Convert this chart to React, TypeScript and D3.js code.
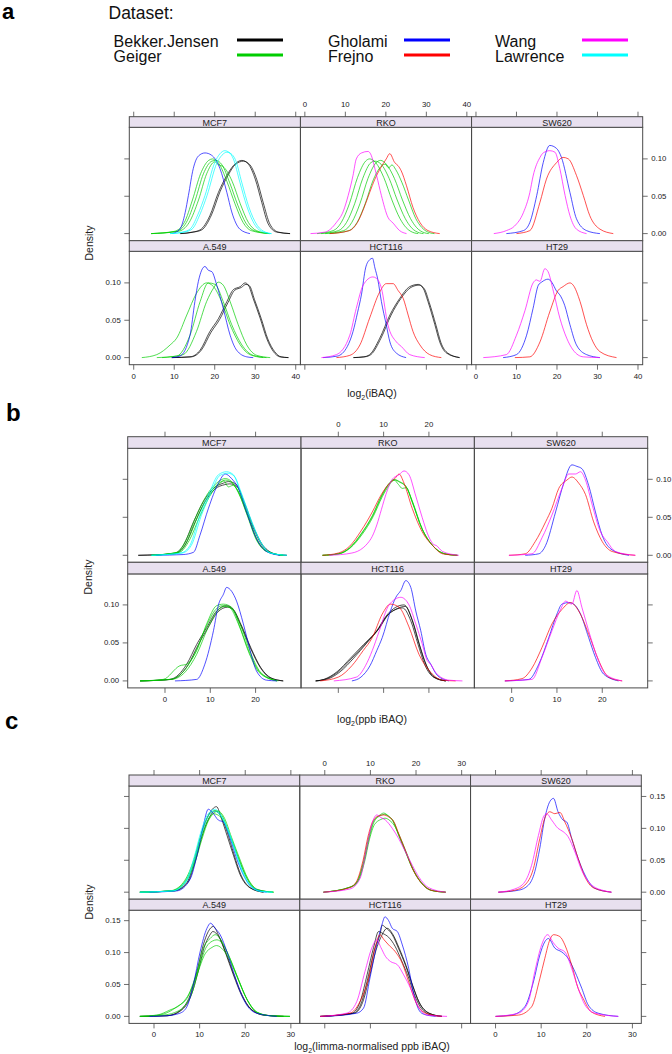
import React from 'react';
import * as d3 from 'd3';

type Curve = [string, number[][]];

// ---------- legend / groups ----------
const DATASETS = ['Bekker.Jensen', 'Geiger', 'Gholami', 'Frejno', 'Wang', 'Lawrence'];
const DATASET_COLORS = ['#000000', '#00cd00', '#0000ff', '#ff0000', '#ff00ff', '#00ffff'];
const CELL_LINES = ['MCF7', 'RKO', 'SW620', 'A.549', 'HCT116', 'HT29'];

// ---------- tick labels ----------
const A_X_TICKS = [0, 10, 20, 30, 40];
const B_X_TICKS = [0, 10, 20];
const C_X_TICKS = [0, 10, 20, 30];
const AB_Y_TICKS = [0, 0.05, 0.1];
const C_Y_TICKS = [0, 0.05, 0.1, 0.15];

// ---------- panel a : log2(iBAQ) ----------
const aMCF7: Curve[] = [
  ['Bekker.Jensen', [[11.4, 0], [14.5, 0.002], [16.4, 0.005], [18.8, 0.024], [20.9, 0.055], [23, 0.078], [24.6, 0.091], [26.7, 0.098], [28.3, 0.093], [30, 0.073], [31.6, 0.042], [33.2, 0.013], [35.3, 0.002], [38.6, 0]]],
  ['Bekker.Jensen', [[11.6, 0], [14.8, 0.002], [16.8, 0.005], [19.2, 0.025], [21.3, 0.056], [23.4, 0.079], [25, 0.092], [27.1, 0.097], [28.7, 0.092], [30.4, 0.072], [32, 0.041], [33.6, 0.013], [35.7, 0.002], [38.6, 0]]],
  ['Geiger', [[4.3, 0], [10, 0.003], [12.5, 0.015], [14.5, 0.045], [16.5, 0.08], [18.5, 0.098], [19.5, 0.1], [21, 0.094], [23, 0.07], [25, 0.04], [27, 0.015], [29, 0.004], [33.5, 0]]],
  ['Geiger', [[4.3, 0], [10.5, 0.003], [13, 0.015], [15.2, 0.045], [17.2, 0.08], [19.3, 0.097], [20.3, 0.098], [21.8, 0.092], [23.7, 0.068], [25.7, 0.038], [27.7, 0.014], [29.7, 0.004], [33.5, 0]]],
  ['Geiger', [[4.3, 0], [11, 0.003], [13.7, 0.015], [16, 0.045], [18, 0.08], [20, 0.096], [21, 0.092], [22, 0.09], [24.3, 0.07], [26.3, 0.04], [28.3, 0.015], [30.3, 0.004], [33.5, 0]]],
  ['Gholami', [[9.5, 0], [11.4, 0.006], [12.7, 0.028], [13.5, 0.051], [14.7, 0.087], [16, 0.104], [17.6, 0.108], [19.2, 0.105], [21.3, 0.087], [23, 0.055], [24.2, 0.029], [26.2, 0.006], [28.7, 0]]],
  ['Lawrence', [[9, 0], [12, 0.002], [13.9, 0.006], [15.8, 0.025], [17.6, 0.051], [20, 0.095], [21.3, 0.107], [22.5, 0.111], [23.5, 0.109], [24.6, 0.1], [26.2, 0.069], [27.9, 0.037], [30, 0.011], [32, 0.002], [34, 0]]],
  ['Lawrence', [[9, 0], [12.5, 0.002], [14.4, 0.006], [16.3, 0.025], [18.1, 0.051], [20.5, 0.094], [21.8, 0.105], [23, 0.109], [24, 0.107], [25.1, 0.099], [26.7, 0.068], [28.4, 0.036], [30.5, 0.011], [32.5, 0.002], [34, 0]]],
];
const aRKO: Curve[] = [
  ['Geiger', [[3, 0], [7, 0.004], [9, 0.015], [11, 0.04], [13, 0.075], [15, 0.097], [16, 0.1], [17.5, 0.095], [19.5, 0.075], [21.5, 0.045], [23.5, 0.02], [25, 0.008], [27, 0.001], [28, 0]]],
  ['Geiger', [[4, 0], [8.3, 0.004], [10.3, 0.015], [12.3, 0.04], [14.3, 0.074], [16.3, 0.095], [17.3, 0.097], [18.8, 0.093], [20.8, 0.074], [22.8, 0.045], [24.8, 0.02], [26.3, 0.008], [28.3, 0.001], [29.3, 0]]],
  ['Geiger', [[5, 0], [9.6, 0.004], [11.6, 0.015], [13.6, 0.04], [15.6, 0.074], [17.6, 0.095], [18.7, 0.098], [20.1, 0.093], [22.1, 0.074], [24.1, 0.045], [26.1, 0.02], [27.6, 0.008], [29.6, 0.001], [30.6, 0]]],
  ['Geiger', [[6, 0], [10.9, 0.004], [12.9, 0.015], [14.9, 0.04], [16.9, 0.072], [18.5, 0.088], [19.8, 0.093], [20.7, 0.088], [21.5, 0.092], [22.4, 0.086], [24, 0.068], [25.6, 0.045], [27.4, 0.02], [28.9, 0.008], [30.9, 0.001], [32, 0]]],
  ['Frejno', [[6.2, 0], [11, 0.004], [13, 0.015], [14.5, 0.033], [16, 0.055], [17.3, 0.073], [18.5, 0.086], [20.1, 0.1], [20.96, 0.107], [22.2, 0.095], [23, 0.091], [23.8, 0.084], [25.1, 0.064], [26.7, 0.035], [28.4, 0.015], [30.4, 0.004], [33.3, 0]]],
  ['Wang', [[1.4, 0], [5, 0.002], [7.8, 0.015], [9.5, 0.03], [10.7, 0.051], [11.9, 0.078], [12.7, 0.1], [14, 0.108], [15.6, 0.11], [16.2, 0.107], [17.7, 0.078], [18.9, 0.051], [20.5, 0.022], [21.8, 0.014], [23.4, 0.004], [25.1, 0]]],
];
const aSW620: Curve[] = [
  ['Gholami', [[7.5, 0], [11.7, 0.004], [13.3, 0.015], [15, 0.051], [16.6, 0.095], [18.2, 0.118], [19.9, 0.114], [21.1, 0.102], [23.2, 0.055], [24.8, 0.02], [27.3, 0.004], [30.6, 0]]],
  ['Frejno', [[10, 0], [13.3, 0.004], [15.8, 0.042], [17.4, 0.073], [19.9, 0.095], [21.5, 0.102], [22.8, 0.1], [24.8, 0.078], [26.5, 0.051], [28.1, 0.024], [30.6, 0.006], [33.9, 0]]],
  ['Wang', [[4.4, 0], [7.5, 0.004], [9.5, 0.01], [11.7, 0.028], [13.3, 0.055], [14.1, 0.077], [15.8, 0.102], [16.6, 0.108], [18.2, 0.111], [19.5, 0.109], [20.7, 0.087], [22, 0.051], [23.2, 0.024], [24.8, 0.006], [27.3, 0]]],
];
const aA549: Curve[] = [
  ['Bekker.Jensen', [[9.4, 0], [13.9, 0.001], [16.4, 0.01], [18.8, 0.035], [20.9, 0.052], [23, 0.075], [24.6, 0.091], [26.3, 0.095], [27.5, 0.1], [28.3, 0.097], [29.5, 0.079], [31.2, 0.053], [32.8, 0.026], [34.5, 0.008], [36.1, 0.001], [38.2, 0]]],
  ['Bekker.Jensen', [[9.4, 0], [14.2, 0.001], [16.7, 0.01], [19.1, 0.034], [21.2, 0.051], [23.3, 0.074], [24.9, 0.09], [26.6, 0.094], [27.7, 0.098], [28.6, 0.096], [29.8, 0.078], [31.5, 0.052], [33.1, 0.025], [34.8, 0.008], [36.4, 0.001], [38.2, 0]]],
  ['Geiger', [[2, 0], [5.7, 0.004], [9, 0.017], [10.6, 0.026], [13.1, 0.057], [15.5, 0.086], [18, 0.1], [19.7, 0.095], [21.7, 0.075], [23.8, 0.044], [26.3, 0.017], [28.7, 0.004], [32, 0]]],
  ['Geiger', [[5.7, 0], [10.6, 0.002], [13.9, 0.03], [16.4, 0.075], [18.4, 0.1], [20.1, 0.098], [22.1, 0.075], [24.2, 0.044], [26.7, 0.017], [29.5, 0.003], [32.8, 0]]],
  ['Geiger', [[7, 0], [12.2, 0.004], [15.5, 0.035], [18, 0.075], [19.7, 0.093], [20.9, 0.101], [22.1, 0.097], [23.8, 0.075], [25.8, 0.044], [27.9, 0.017], [30.4, 0.003], [33.7, 0]]],
  ['Gholami', [[9.4, 0], [11.4, 0.002], [13.9, 0.03], [15.1, 0.075], [15.96, 0.102], [17.6, 0.122], [18.4, 0.117], [19.3, 0.115], [20.5, 0.097], [22.1, 0.066], [23.8, 0.03], [25.4, 0.01], [27.9, 0.001], [29.5, 0]]],
];
const aHCT116: Curve[] = [
  ['Bekker.Jensen', [[12, 0], [14.5, 0.001], [16, 0.004], [18.5, 0.026], [21, 0.057], [23.4, 0.079], [25.9, 0.095], [28, 0.098], [29.2, 0.093], [30.4, 0.075], [32.1, 0.044], [33.3, 0.021], [35, 0.006], [38.2, 0]]],
  ['Bekker.Jensen', [[12, 0], [14.8, 0.001], [16.3, 0.004], [18.8, 0.026], [21.3, 0.057], [23.7, 0.079], [26.2, 0.094], [28.2, 0.097], [29.5, 0.092], [30.7, 0.074], [32.4, 0.043], [33.6, 0.02], [35.3, 0.006], [38.2, 0]]],
  ['Gholami', [[4.5, 0], [8, 0.002], [10.5, 0.015], [11.9, 0.035], [13, 0.06], [14, 0.085], [15, 0.12], [16, 0.131], [16.7, 0.133], [17.3, 0.12], [18, 0.105], [18.9, 0.075], [20.1, 0.044], [21, 0.021], [22.6, 0.006], [25, 0]]],
  ['Frejno', [[7.8, 0], [11.1, 0.003], [13.6, 0.017], [16, 0.053], [18.5, 0.088], [20.1, 0.099], [21.8, 0.099], [23, 0.09], [24.3, 0.079], [25.5, 0.057], [26.7, 0.035], [28.4, 0.017], [30.8, 0.004], [33.7, 0]]],
  ['Wang', [[4.1, 0], [7.8, 0.004], [11.1, 0.03], [12.7, 0.066], [14.4, 0.097], [16.8, 0.108], [17.7, 0.106], [18.9, 0.093], [20.5, 0.044], [22.6, 0.021], [23.8, 0.015], [25.9, 0.004], [29.6, 0]]],
];
const aHT29: Curve[] = [
  ['Gholami', [[6.7, 0], [10, 0.004], [12.5, 0.03], [14.1, 0.066], [15.4, 0.097], [16.2, 0.101], [17.8, 0.105], [18.7, 0.101], [19.9, 0.089], [20.7, 0.084], [21.9, 0.07], [23.2, 0.044], [24.8, 0.017], [27.3, 0.004], [30.6, 0]]],
  ['Frejno', [[9.6, 0], [13.3, 0.001], [15.8, 0.021], [18.2, 0.061], [20.3, 0.09], [21.5, 0.095], [23.2, 0.1], [24, 0.097], [25.7, 0.075], [27.3, 0.044], [28.9, 0.021], [30.6, 0.008], [34.7, 0]]],
  ['Wang', [[1.8, 0], [7.5, 0.004], [10, 0.03], [12.1, 0.063], [14.1, 0.1], [14.95, 0.104], [15.8, 0.102], [17, 0.119], [17.8, 0.115], [19.1, 0.089], [20.7, 0.053], [22.4, 0.026], [24, 0.01], [26.5, 0.001], [30.6, 0]]],
];

// ---------- panel b : log2(ppb iBAQ) ----------
const bMCF7: Curve[] = [
  ['Bekker.Jensen', [[-5.9, 0], [1.8, 0.002], [4.05, 0.013], [6.3, 0.044], [8.5, 0.071], [10.7, 0.088], [12.9, 0.095], [14, 0.097], [15.8, 0.093], [17.3, 0.071], [19.5, 0.036], [21.7, 0.011], [24.7, 0.001], [26.9, 0]]],
  ['Bekker.Jensen', [[-5.9, 0], [2.2, 0.002], [4.4, 0.013], [6.6, 0.043], [8.8, 0.07], [11, 0.087], [13.2, 0.093], [14.3, 0.094], [16, 0.09], [17.5, 0.07], [19.7, 0.035], [21.9, 0.011], [24.9, 0.001], [26.9, 0]]],
  ['Geiger', [[-3, 0], [2.6, 0.004], [4.8, 0.022], [7, 0.053], [9.2, 0.079], [11.4, 0.095], [13.3, 0.101], [14.7, 0.097], [16.2, 0.083], [18, 0.055], [20.2, 0.02], [22.4, 0.005], [26.1, 0]]],
  ['Geiger', [[-3, 0], [2.9, 0.004], [5.1, 0.021], [7.3, 0.052], [9.5, 0.078], [11.7, 0.094], [13, 0.098], [14, 0.09], [15, 0.092], [16.4, 0.08], [18.2, 0.053], [20.4, 0.019], [22.6, 0.005], [26.1, 0]]],
  ['Geiger', [[-3, 0], [3.2, 0.004], [5.4, 0.02], [7.6, 0.05], [9.8, 0.077], [12, 0.094], [13.4, 0.099], [14.8, 0.095], [16.4, 0.082], [18.2, 0.054], [20.4, 0.02], [22.6, 0.005], [26.1, 0]]],
  ['Gholami', [[-2, 0], [4, 0.001], [6.3, 0.004], [7.7, 0.026], [9.6, 0.062], [11.8, 0.095], [13.3, 0.107], [14.7, 0.101], [16.2, 0.088], [18, 0.057], [20.2, 0.022], [22.4, 0.005], [25.4, 0]]],
  ['Lawrence', [[-3, 0], [3.5, 0.003], [5.5, 0.013], [7.7, 0.053], [9.9, 0.084], [11.8, 0.106], [13.6, 0.11], [15.1, 0.106], [16.6, 0.084], [18.8, 0.048], [21, 0.018], [23.2, 0.003], [26.9, 0]]],
  ['Lawrence', [[-3, 0], [3.8, 0.003], [5.8, 0.013], [8, 0.052], [10.2, 0.083], [12.1, 0.105], [13.9, 0.108], [15.3, 0.104], [16.8, 0.083], [19, 0.047], [21.2, 0.017], [23.4, 0.003], [26.9, 0]]],
];
const bRKO: Curve[] = [
  ['Geiger', [[-3.5, 0], [0, 0.002], [2.5, 0.01], [5, 0.028], [7.5, 0.052], [9.5, 0.078], [11, 0.093], [12.3, 0.1], [13.5, 0.097], [15, 0.09], [16.3, 0.072], [18.5, 0.035], [20.8, 0.013], [23.5, 0.002], [26.3, 0]]],
  ['Geiger', [[-3.5, 0], [0.2, 0.002], [2.7, 0.01], [5.2, 0.027], [7.7, 0.051], [9.7, 0.077], [11.2, 0.092], [12.3, 0.099], [13.3, 0.093], [14.1, 0.088], [15, 0.089], [16.3, 0.07], [18.5, 0.034], [20.8, 0.013], [23.5, 0.002], [26.3, 0]]],
  ['Geiger', [[-3.5, 0], [0.1, 0.002], [2.6, 0.01], [5.1, 0.028], [7.6, 0.052], [9.6, 0.078], [11.1, 0.093], [12.4, 0.099], [13.6, 0.096], [15, 0.09], [16.3, 0.071], [18.5, 0.035], [20.8, 0.013], [23.5, 0.002], [26.3, 0]]],
  ['Frejno', [[-3.5, 0], [0, 0.003], [2.5, 0.012], [5, 0.032], [7.5, 0.057], [9.5, 0.08], [11, 0.093], [12.5, 0.101], [13.4, 0.107], [14.5, 0.095], [16.3, 0.062], [18.5, 0.031], [20.8, 0.013], [23, 0.002], [26.3, 0]]],
  ['Wang', [[-2, 0], [3, 0.003], [5.5, 0.01], [6.5, 0.016], [7.5, 0.025], [8.5, 0.04], [9.5, 0.06], [10.5, 0.08], [11.9, 0.1], [13.4, 0.106], [14.5, 0.111], [15.6, 0.106], [17.1, 0.078], [18.5, 0.05], [20, 0.024], [21.1, 0.014], [21.6, 0.013], [23, 0.005], [26.6, 0]]],
];
const bSW620: Curve[] = [
  ['Gholami', [[3, 0], [6, 0.002], [7.5, 0.013], [9.7, 0.057], [11.5, 0.095], [13.3, 0.119], [14.4, 0.117], [15.5, 0.114], [17, 0.092], [18.5, 0.057], [20, 0.026], [22.2, 0.007], [25.9, 0]]],
  ['Frejno', [[-0.6, 0], [3, 0.002], [5.2, 0.018], [7.5, 0.044], [8.9, 0.062], [10.4, 0.088], [12.2, 0.099], [13.3, 0.103], [14.8, 0.095], [16.3, 0.08], [18.1, 0.044], [20, 0.018], [22.2, 0.005], [27.3, 0]]],
  ['Wang', [[-0.6, 0], [4.5, 0.002], [6.7, 0.023], [8.9, 0.053], [11.1, 0.088], [12.6, 0.107], [14.1, 0.107], [15.2, 0.11], [16.3, 0.099], [17.8, 0.066], [19.6, 0.031], [21.1, 0.018], [22.9, 0.005], [27.3, 0]]],
];
const bA549: Curve[] = [
  ['Bekker.Jensen', [[-5.5, 0], [1.1, 0.002], [4.8, 0.022], [7, 0.048], [9.2, 0.07], [11.4, 0.092], [13.6, 0.099], [14.7, 0.096], [16.6, 0.075], [18.8, 0.044], [21, 0.018], [23.2, 0.004], [26.1, 0]]],
  ['Bekker.Jensen', [[-5.5, 0], [1.4, 0.002], [5.1, 0.021], [7.3, 0.047], [9.5, 0.07], [11.7, 0.091], [13.8, 0.097], [14.9, 0.095], [16.8, 0.074], [19, 0.043], [21.2, 0.017], [23.4, 0.004], [26.1, 0]]],
  ['Geiger', [[-5.5, 0], [-0.4, 0.002], [3.3, 0.02], [4.8, 0.022], [7, 0.04], [9.2, 0.075], [11.4, 0.099], [12.9, 0.101], [14.7, 0.097], [16.6, 0.07], [18.8, 0.035], [21, 0.011], [24.7, 0]]],
  ['Geiger', [[-5.5, 0], [1, 0.002], [4, 0.012], [6.5, 0.035], [9, 0.07], [11.2, 0.094], [12.7, 0.099], [14.2, 0.097], [16.2, 0.075], [18.6, 0.036], [20.8, 0.011], [24.7, 0]]],
  ['Geiger', [[-5.5, 0], [1.5, 0.002], [4.5, 0.012], [7, 0.035], [9.5, 0.07], [11.7, 0.093], [13.2, 0.098], [14.9, 0.094], [16.9, 0.07], [19.1, 0.034], [21.3, 0.01], [25, 0]]],
  ['Gholami', [[2.2, 0], [7, 0.002], [8.8, 0.022], [10.7, 0.066], [11.8, 0.1], [12.9, 0.114], [13.6, 0.123], [14.7, 0.118], [15.8, 0.105], [17.3, 0.075], [18.8, 0.04], [20.2, 0.013], [22.4, 0.001], [24.7, 0]]],
];
const bHCT116: Curve[] = [
  ['Bekker.Jensen', [[-5, 0], [-3.2, 0.002], [-0.3, 0.012], [2.7, 0.03], [5.6, 0.048], [8.5, 0.066], [10.5, 0.085], [12.7, 0.097], [14.5, 0.1], [16.3, 0.08], [17.8, 0.049], [19.3, 0.022], [21.1, 0.005], [23.7, 0]]],
  ['Bekker.Jensen', [[-5, 0], [-3, 0.002], [0, 0.012], [3, 0.03], [6, 0.049], [8.8, 0.068], [10.8, 0.086], [12.7, 0.094], [14.2, 0.096], [16, 0.079], [17.6, 0.048], [19.1, 0.021], [21, 0.005], [23.7, 0]]],
  ['Bekker.Jensen', [[-5, 0], [-2.6, 0.002], [0.4, 0.012], [3.4, 0.03], [6.3, 0.05], [9, 0.069], [11, 0.087], [12.9, 0.095], [14.8, 0.098], [16.5, 0.077], [18, 0.046], [19.5, 0.02], [21.3, 0.005], [23.7, 0]]],
  ['Gholami', [[3, 0], [5, 0.005], [7, 0.02], [8.5, 0.04], [9.7, 0.057], [11.5, 0.092], [12.7, 0.11], [13.8, 0.119], [14.9, 0.132], [16, 0.123], [17.1, 0.092], [18.2, 0.066], [19.3, 0.035], [20.4, 0.022], [21.9, 0.007], [24.4, 0]]],
  ['Frejno', [[-4, 0], [0, 0.005], [3, 0.02], [5.5, 0.04], [7.5, 0.057], [9.7, 0.088], [11.5, 0.101], [13.4, 0.097], [15.6, 0.071], [17.8, 0.035], [20, 0.014], [23, 0.001], [25.9, 0]]],
  ['Wang', [[-1, 0], [4, 0.005], [6, 0.02], [7.5, 0.04], [9, 0.065], [11.2, 0.1], [13.8, 0.11], [15.6, 0.1], [17.1, 0.075], [18.5, 0.049], [19.6, 0.027], [20.4, 0.022], [21.5, 0.011], [24.4, 0.001], [27.4, 0]]],
];
const bHT29: Curve[] = [
  ['Gholami', [[-1.5, 0], [3.8, 0.002], [6, 0.022], [8.2, 0.057], [10, 0.088], [11.1, 0.101], [12.6, 0.103], [13.7, 0.101], [15.2, 0.088], [17, 0.057], [18.5, 0.031], [20.3, 0.009], [23.6, 0]]],
  ['Frejno', [[-1.5, 0], [2.3, 0.003], [4.5, 0.017], [6.7, 0.044], [8.9, 0.075], [11.1, 0.094], [13, 0.103], [14.8, 0.092], [17, 0.062], [19.2, 0.027], [21.4, 0.005], [24.4, 0]]],
  ['Wang', [[-1.5, 0], [4.5, 0.002], [6.7, 0.031], [8.9, 0.066], [10.8, 0.094], [11.9, 0.105], [13.3, 0.101], [14.4, 0.119], [15.5, 0.097], [17, 0.066], [18.9, 0.031], [20.7, 0.009], [24.4, 0]]],
];

// ---------- panel c : log2(limma-normalised ppb iBAQ) ----------
const cMCF7: Curve[] = [
  ['Bekker.Jensen', [[-3.1, 0], [4.2, 0.002], [7.2, 0.015], [9, 0.053], [10.5, 0.094], [11.9, 0.12], [13.7, 0.134], [14.8, 0.115], [16, 0.089], [17.4, 0.058], [18.9, 0.027], [21, 0.007], [24, 0]]],
  ['Bekker.Jensen', [[-3.1, 0], [4.4, 0.002], [7.4, 0.015], [9.2, 0.052], [10.7, 0.092], [12.1, 0.117], [13.4, 0.127], [14.6, 0.12], [16, 0.095], [17.5, 0.06], [19, 0.028], [21.1, 0.007], [24, 0]]],
  ['Geiger', [[-3.1, 0], [3.5, 0.002], [6.4, 0.015], [8.6, 0.048], [10.1, 0.085], [11.6, 0.116], [13.4, 0.128], [14.9, 0.12], [16.7, 0.087], [18.5, 0.053], [20.3, 0.022], [22.5, 0.004], [26.2, 0]]],
  ['Geiger', [[-3.1, 0], [3.7, 0.002], [6.6, 0.015], [8.8, 0.047], [10.3, 0.083], [11.8, 0.112], [13, 0.123], [14.6, 0.118], [16.8, 0.086], [18.6, 0.052], [20.4, 0.022], [22.6, 0.004], [26.2, 0]]],
  ['Geiger', [[-3.1, 0], [3.9, 0.002], [6.8, 0.015], [9, 0.047], [10.5, 0.083], [12, 0.113], [14.1, 0.127], [15.3, 0.118], [17, 0.086], [18.8, 0.052], [20.6, 0.021], [22.8, 0.004], [26.2, 0]]],
  ['Gholami', [[-1, 0], [5, 0.002], [7.9, 0.02], [9.4, 0.057], [10.8, 0.104], [11.9, 0.13], [12.8, 0.125], [14.1, 0.113], [15.2, 0.11], [16.7, 0.084], [18.1, 0.053], [19.6, 0.027], [21.8, 0.006], [24.7, 0]]],
  ['Lawrence', [[-3.1, 0], [4, 0.002], [7, 0.018], [8.8, 0.055], [10.3, 0.095], [11.8, 0.122], [13.4, 0.13], [14.7, 0.12], [16, 0.1], [17.6, 0.068], [19.2, 0.034], [21, 0.01], [23.5, 0.001], [26, 0]]],
  ['Lawrence', [[-3.1, 0], [4.2, 0.002], [7.2, 0.018], [9, 0.054], [10.5, 0.093], [12, 0.12], [13.2, 0.127], [14.5, 0.121], [16.2, 0.098], [17.8, 0.066], [19.4, 0.033], [21.2, 0.01], [23.7, 0.001], [26, 0]]],
];
const cRKO: Curve[] = [
  ['Geiger', [[-0.3, 0], [5.5, 0.008], [7, 0.016], [8.5, 0.048], [9.6, 0.085], [10.7, 0.111], [12.1, 0.121], [12.9, 0.124], [14, 0.119], [14.8, 0.113], [16.2, 0.089], [17.7, 0.063], [19.2, 0.037], [21, 0.016], [23.2, 0.003], [26.5, 0]]],
  ['Geiger', [[-0.3, 0], [5.7, 0.008], [7.2, 0.016], [8.7, 0.047], [9.8, 0.083], [10.9, 0.106], [12.3, 0.114], [13.2, 0.116], [14.3, 0.112], [15.2, 0.105], [16.4, 0.088], [17.9, 0.062], [19.4, 0.036], [21.2, 0.015], [23.4, 0.003], [26.5, 0]]],
  ['Geiger', [[-0.3, 0], [5.6, 0.008], [7.1, 0.016], [8.6, 0.048], [9.7, 0.084], [10.8, 0.11], [12.2, 0.12], [13.1, 0.122], [14.2, 0.118], [15, 0.112], [16.3, 0.088], [17.8, 0.062], [19.3, 0.036], [21.1, 0.015], [23.3, 0.003], [26.5, 0]]],
  ['Frejno', [[-0.3, 0], [5.4, 0.007], [6.9, 0.016], [8.4, 0.05], [9.5, 0.088], [10.6, 0.112], [12, 0.12], [12.9, 0.121], [14, 0.118], [15, 0.112], [16.3, 0.09], [17.8, 0.063], [19.3, 0.036], [21.1, 0.015], [23.3, 0.003], [26.5, 0]]],
  ['Wang', [[-0.3, 0], [5.5, 0.005], [7.7, 0.021], [9.2, 0.069], [10.3, 0.106], [11.4, 0.121], [12.3, 0.117], [13.3, 0.113], [14.8, 0.1], [16.2, 0.084], [17.7, 0.063], [19.2, 0.042], [20.6, 0.024], [22.8, 0.007], [26.5, 0]]],
];
const cSW620: Curve[] = [
  ['Gholami', [[0.6, 0], [5, 0.003], [7.2, 0.011], [8.6, 0.032], [9.7, 0.069], [10.8, 0.116], [11.9, 0.142], [12.7, 0.147], [13.7, 0.126], [14.8, 0.113], [15.6, 0.11], [16.7, 0.084], [18.1, 0.053], [19.6, 0.027], [21.8, 0.006], [25.4, 0]]],
  ['Frejno', [[0.6, 0], [4.2, 0.003], [6.4, 0.011], [8.3, 0.037], [9.7, 0.084], [10.8, 0.116], [11.9, 0.126], [13, 0.123], [14.1, 0.125], [15.2, 0.11], [16.7, 0.084], [18.1, 0.053], [19.6, 0.024], [21.4, 0.007], [25.4, 0]]],
  ['Wang', [[0.6, 0], [4.2, 0.005], [6.4, 0.016], [7.9, 0.042], [9.4, 0.089], [10.5, 0.118], [11.2, 0.123], [12.3, 0.113], [13.7, 0.1], [14.8, 0.095], [15.9, 0.087], [17.4, 0.063], [18.9, 0.034], [21.1, 0.011], [24, 0.002], [25.4, 0]]],
];
const cA549: Curve[] = [
  ['Bekker.Jensen', [[-3.1, 0], [2.8, 0.001], [5.7, 0.009], [7.9, 0.033], [9.4, 0.07], [10.8, 0.112], [11.9, 0.133], [13, 0.141], [14.1, 0.128], [15.6, 0.101], [17.4, 0.065], [19.2, 0.033], [21, 0.013], [24, 0.002], [28.4, 0]]],
  ['Bekker.Jensen', [[-3.1, 0], [3, 0.001], [5.9, 0.009], [8.1, 0.032], [9.6, 0.068], [11, 0.108], [12.2, 0.127], [12.9, 0.133], [14.2, 0.125], [15.8, 0.099], [17.6, 0.064], [19.4, 0.032], [21.2, 0.012], [24.2, 0.002], [28.4, 0]]],
  ['Geiger', [[-3.1, 0], [0.6, 0.002], [3.5, 0.01], [5.7, 0.018], [7.9, 0.039], [9.4, 0.07], [10.8, 0.107], [12.3, 0.122], [13.4, 0.128], [14.5, 0.122], [16, 0.101], [18.1, 0.065], [20.3, 0.028], [22.5, 0.007], [25.4, 0.001], [29.8, 0]]],
  ['Geiger', [[-3.1, 0], [1, 0.002], [3.5, 0.008], [5, 0.015], [7.2, 0.028], [9.4, 0.065], [11.2, 0.098], [12.7, 0.108], [13.7, 0.111], [15.2, 0.104], [16.8, 0.085], [18.6, 0.055], [20.5, 0.025], [22.7, 0.006], [25.6, 0.001], [29.8, 0]]],
  ['Geiger', [[-3.1, 0], [2, 0.002], [4.5, 0.006], [6.5, 0.015], [8.5, 0.04], [10, 0.08], [11.5, 0.109], [12.8, 0.118], [13.8, 0.12], [15, 0.114], [16.6, 0.092], [18.5, 0.058], [20.4, 0.026], [22.6, 0.006], [25.5, 0.001], [29.8, 0]]],
  ['Gholami', [[-1, 0], [2.8, 0.001], [5.7, 0.005], [7.2, 0.015], [8.6, 0.049], [10.1, 0.101], [11.6, 0.138], [12.4, 0.146], [13.4, 0.138], [14.5, 0.128], [16, 0.101], [17.4, 0.07], [18.9, 0.039], [20.3, 0.018], [22.5, 0.005], [26.9, 0]]],
];
const cHCT116: Curve[] = [
  ['Bekker.Jensen', [[-1, 0], [6.3, 0.005], [8.1, 0.023], [9.6, 0.065], [11, 0.107], [12.1, 0.128], [12.6, 0.143], [13.2, 0.14], [14.8, 0.128], [16.2, 0.106], [17.7, 0.08], [19.2, 0.049], [20.6, 0.023], [22.8, 0.005], [25.7, 0]]],
  ['Bekker.Jensen', [[-1, 0], [6.5, 0.005], [8.3, 0.022], [9.8, 0.062], [11.2, 0.103], [12.3, 0.124], [13.7, 0.138], [14.8, 0.13], [16.3, 0.107], [17.8, 0.08], [19.3, 0.048], [20.7, 0.022], [22.9, 0.005], [25.7, 0]]],
  ['Bekker.Jensen', [[-1, 0], [6, 0.005], [7.8, 0.024], [9.3, 0.066], [10.7, 0.108], [11.8, 0.133], [12.7, 0.13], [14, 0.124], [15.4, 0.11], [16.8, 0.088], [18.3, 0.062], [19.7, 0.033], [21.2, 0.012], [23.4, 0.002], [25.7, 0]]],
  ['Gholami', [[0, 0], [7, 0.005], [8.5, 0.013], [9.9, 0.06], [11.4, 0.112], [12.5, 0.143], [13.2, 0.156], [14, 0.15], [14.8, 0.138], [15.9, 0.133], [17, 0.112], [18.4, 0.075], [19.5, 0.035], [20.5, 0.012], [21.5, 0.004], [24.3, 0]]],
  ['Frejno', [[-1, 0], [5.5, 0.005], [7.7, 0.023], [9.6, 0.06], [11, 0.107], [12.1, 0.128], [13, 0.12], [14, 0.112], [15.5, 0.101], [17, 0.083], [18.4, 0.054], [19.9, 0.023], [22.1, 0.005], [25.7, 0]]],
  ['Wang', [[-1, 0], [4.8, 0.005], [7, 0.023], [8.8, 0.07], [10.3, 0.107], [11.4, 0.12], [12.3, 0.108], [13.3, 0.094], [14.4, 0.086], [15.9, 0.081], [17.3, 0.065], [18.8, 0.044], [20.3, 0.018], [22.4, 0.002], [26.8, 0]]],
];
const cHT29: Curve[] = [
  ['Gholami', [[0, 0], [3.5, 0.002], [6.4, 0.015], [8.3, 0.054], [9.7, 0.096], [10.8, 0.117], [11.6, 0.122], [13, 0.107], [14.5, 0.101], [15.9, 0.091], [17.4, 0.07], [18.9, 0.044], [20.3, 0.018], [22.5, 0.005], [26.9, 0]]],
  ['Frejno', [[0, 0], [5, 0.002], [7.9, 0.015], [9.7, 0.059], [10.8, 0.091], [11.9, 0.12], [12.7, 0.128], [14.1, 0.125], [15.2, 0.112], [16.7, 0.08], [18.1, 0.044], [19.2, 0.028], [21, 0.007], [24, 0]]],
  ['Wang', [[0, 0], [5, 0.005], [7.2, 0.023], [8.6, 0.07], [10.1, 0.112], [11.4, 0.128], [12.7, 0.115], [13.7, 0.107], [15.2, 0.101], [16.7, 0.075], [18.1, 0.044], [19.6, 0.018], [21.8, 0.005], [26.9, 0]]],
];

// ---------- layout (positions, not data) ----------
const FONT = '"Liberation Sans", Arial, Helvetica, sans-serif';
const FRAME = '#4a4a4a';
const STRIP_FILL = '#e8e0ef';
const TEXT = '#222';

interface PanelCfg {
  top: number; left: number; colW: number; stripH: number; plotH: number;
  xDomain: [number, number]; yDomain: [number, number];
  xTicks: number[]; yTicks: number[];
  densityY: number; xLabelY: number; xLabel: string; cells: Curve[][];
}

const fmtY = d3.format('.2f');

function Trellis({ cfg }: { cfg: PanelCfg }) {
  const x = d3.scaleLinear().domain(cfg.xDomain).range([0, cfg.colW]);
  const y = d3.scaleLinear().domain(cfg.yDomain).range([cfg.plotH, 0]);
  const line = d3.line<number[]>().x(d => x(d[0])).y(d => y(d[1])).curve(d3.curveMonotoneX);
  const rowH = cfg.stripH + cfg.plotH;
  const bottom = cfg.top + 2 * rowH;
  const right = cfg.left + 3 * cfg.colW;
  const T = 5;
  const els: React.ReactNode[] = [];

  for (let r = 0; r < 2; r++) {
    for (let c = 0; c < 3; c++) {
      const idx = r * 3 + c;
      const gx = cfg.left + c * cfg.colW;
      const cellTop = cfg.top + r * rowH;
      const plotTop = cellTop + cfg.stripH;
      const curves = [...cfg.cells[idx]].sort((a, b) => DATASETS.indexOf(a[0]) - DATASETS.indexOf(b[0]));
      els.push(
        <g key={`p${idx}`} transform={`translate(${gx},${plotTop})`}>
          {curves.map((cv, i) => (
            <path key={i} d={line(cv[1]) || ''} fill="none"
              stroke={DATASET_COLORS[DATASETS.indexOf(cv[0])]} strokeWidth={0.95} strokeOpacity={0.72} />
          ))}
          <rect x={0} y={0} width={cfg.colW} height={cfg.plotH} fill="none" stroke={FRAME} strokeWidth={1} />
        </g>
      );
      els.push(
        <g key={`s${idx}`}>
          <rect x={gx} y={cellTop} width={cfg.colW} height={cfg.stripH} fill={STRIP_FILL} stroke={FRAME} strokeWidth={1} />
          <text x={gx + cfg.colW / 2} y={cellTop + cfg.stripH / 2 + 0.5} textAnchor="middle" dominantBaseline="central"
            fontSize={9} fontFamily={FONT} fill={TEXT}>{CELL_LINES[idx]}</text>
        </g>
      );
    }
  }

  // x axes: top and bottom
  for (let c = 0; c < 3; c++) {
    const gx = cfg.left + c * cfg.colW;
    cfg.xTicks.forEach((t, i) => {
      const px = gx + x(t);
      els.push(<line key={`xt${c}-${i}`} x1={px} x2={px} y1={cfg.top} y2={cfg.top - T} stroke={FRAME} strokeWidth={0.8} />);
      els.push(<line key={`xb${c}-${i}`} x1={px} x2={px} y1={bottom} y2={bottom + T} stroke={FRAME} strokeWidth={0.8} />);
      if (c === 1) {
        els.push(<text key={`xtl${c}-${i}`} x={px} y={cfg.top - 12} textAnchor="middle" dominantBaseline="central"
          fontSize={7.8} fontFamily={FONT} fill={TEXT}>{t}</text>);
      } else {
        els.push(<text key={`xbl${c}-${i}`} x={px} y={bottom + 11.5} textAnchor="middle" dominantBaseline="central"
          fontSize={7.8} fontFamily={FONT} fill={TEXT}>{t}</text>);
      }
    });
  }
  // y axes: left and right
  for (let r = 0; r < 2; r++) {
    const plotTop = cfg.top + r * rowH + cfg.stripH;
    cfg.yTicks.forEach((t, i) => {
      const py = plotTop + y(t);
      els.push(<line key={`yl${r}-${i}`} x1={cfg.left} x2={cfg.left - T} y1={py} y2={py} stroke={FRAME} strokeWidth={0.8} />);
      els.push(<line key={`yr${r}-${i}`} x1={right} x2={right + T} y1={py} y2={py} stroke={FRAME} strokeWidth={0.8} />);
      if (r === 1) {
        els.push(<text key={`yll${r}-${i}`} x={cfg.left - 8.5} y={py} textAnchor="end" dominantBaseline="central"
          fontSize={7.8} fontFamily={FONT} fill={TEXT}>{fmtY(t)}</text>);
      } else {
        els.push(<text key={`yrl${r}-${i}`} x={right + 8.5} y={py} textAnchor="start" dominantBaseline="central"
          fontSize={7.8} fontFamily={FONT} fill={TEXT}>{fmtY(t)}</text>);
      }
    });
  }

  els.push(
    <text key="dens" transform={`translate(${cfg.left - 40},${cfg.densityY}) rotate(-90)`} textAnchor="middle"
      dominantBaseline="central" fontSize={10.5} fontFamily={FONT} fill={TEXT}>Density</text>
  );
  els.push(
    <text key="xlab" x={372} y={cfg.xLabelY} textAnchor="middle" fontSize={10.5} fontFamily={FONT} fill={TEXT}>
      log<tspan fontSize={7} dy={3}>2</tspan><tspan dy={-3}>({cfg.xLabel})</tspan>
    </text>
  );
  return <g>{els}</g>;
}

const PANEL_A: PanelCfg = {
  top: 116.7, left: 129.3, colW: 171.13, stripH: 10.6, plotH: 113.4,
  xDomain: [-1.09, 41.16], yDomain: [-0.0095, 0.1423],
  xTicks: A_X_TICKS, yTicks: AB_Y_TICKS, densityY: 243, xLabelY: 397, xLabel: 'iBAQ',
  cells: [aMCF7, aRKO, aSW620, aA549, aHCT116, aHT29],
};
const PANEL_B: PanelCfg = {
  top: 436.7, left: 127.7, colW: 173.33, stripH: 11.6, plotH: 114,
  xDomain: [-8.23, 30.03], yDomain: [-0.0092, 0.1408],
  xTicks: B_X_TICKS, yTicks: AB_Y_TICKS, densityY: 577, xLabelY: 723, xLabel: 'ppb iBAQ',
  cells: [bMCF7, bRKO, bSW620, bA549, bHCT116, bHT29],
};
const PANEL_C: PanelCfg = {
  top: 775, left: 129, colW: 170.77, stripH: 11, plotH: 113.2,
  xDomain: [-5.48, 31.95], yDomain: [-0.011, 0.1664],
  xTicks: C_X_TICKS, yTicks: C_Y_TICKS, densityY: 902, xLabelY: 1050, xLabel: 'limma-normalised ppb iBAQ',
  cells: [cMCF7, cRKO, cSW620, cA549, cHCT116, cHT29],
};

function Legend() {
  const textX = [113.6, 328, 495];
  const lineX = [237, 404, 582];
  return (
    <g fontFamily={FONT} fill="#111">
      <text x={108.5} y={19} fontSize={17.5}>Dataset:</text>
      {DATASETS.map((d, i) => {
        const col = Math.floor(i / 2);
        const row = i % 2;
        return (
          <g key={d}>
            <text x={textX[col]} y={46.5 + row * 15} fontSize={16}>{d}</text>
            <line x1={lineX[col]} x2={lineX[col] + 46} y1={40 + row * 15} y2={40 + row * 15}
              stroke={DATASET_COLORS[i]} strokeWidth={3} />
          </g>
        );
      })}
    </g>
  );
}

export default function App() {
  return (
    <svg width={672} height={1054} style={{ position: 'absolute', left: 0, top: 0, background: '#fff' }}>
      <rect x={0} y={0} width={672} height={1054} fill="#fff" />
      <text x={2} y={19} fontSize={22} fontWeight="bold" fontFamily={FONT}>a</text>
      <text x={6} y={421} fontSize={24} fontWeight="bold" fontFamily={FONT}>b</text>
      <text x={5} y={729} fontSize={24} fontWeight="bold" fontFamily={FONT}>c</text>
      <Legend />
      <Trellis cfg={PANEL_A} />
      <Trellis cfg={PANEL_B} />
      <Trellis cfg={PANEL_C} />
    </svg>
  );
}
